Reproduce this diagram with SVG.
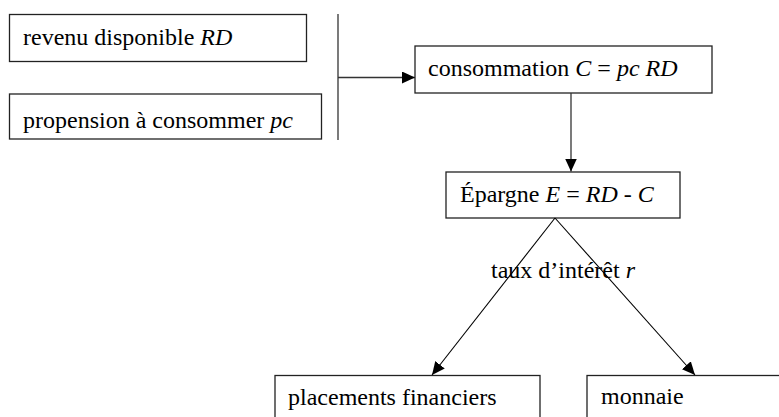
<svg xmlns="http://www.w3.org/2000/svg" width="779" height="417" viewBox="0 0 779 417">
<style>
.box{fill:#fff;stroke:#222;stroke-width:1.3}
.t{font-family:'Liberation Serif','Times New Roman','DejaVu Serif',serif;font-size:24px;fill:#000}
.i{font-style:italic}
.ln{fill:none;stroke:#333;stroke-width:1.3}
.dg{fill:none;stroke:#000;stroke-width:1.1}
</style>
<defs>
<marker id="ah" markerWidth="13" markerHeight="12" refX="13" refY="6" orient="auto" markerUnits="userSpaceOnUse">
<path d="M0,0 L13,6 L0,12 Z" fill="#000"/>
</marker>
</defs>
<rect width="779" height="417" fill="#fff"/>
<g id="rd">
<rect class="box" x="9.5" y="14.5" width="297" height="47"/>
<text class="t" font-family="Liberation Serif, serif" x="23" y="44.5">revenu disponible <tspan class="i">RD</tspan></text>
</g>
<g id="pc">
<rect class="box" x="9.5" y="94" width="312" height="45"/>
<text class="t" font-family="Liberation Serif, serif" x="23" y="127.5">propension à consommer <tspan class="i">pc</tspan></text>
</g>
<g id="conso">
<rect class="box" x="415" y="46" width="297" height="47"/>
<text class="t" font-family="Liberation Serif, serif" x="428" y="75.5">consommation <tspan class="i">C</tspan> = <tspan class="i">pc RD</tspan></text>
</g>
<g id="epargne">
<rect class="box" x="446" y="172" width="234" height="46"/>
<text class="t" font-family="Liberation Serif, serif" x="460" y="202">Épargne <tspan class="i">E</tspan> = <tspan class="i">RD</tspan> - <tspan class="i">C</tspan></text>
</g>
<g id="placements">
<rect class="box" x="275" y="375.5" width="265" height="60"/>
<text class="t" font-family="Liberation Serif, serif" x="288" y="405">placements financiers</text>
</g>
<g id="monnaie">
<rect class="box" x="587" y="375.5" width="220" height="60"/>
<text class="t" font-family="Liberation Serif, serif" x="601" y="404">monnaie</text>
</g>
<g id="connectors">
<line class="ln" x1="338" y1="14" x2="338" y2="140"/>
<line class="ln" x1="338" y1="77.5" x2="415" y2="77.5" marker-end="url(#ah)"/>
<line class="ln" x1="571" y1="93" x2="571" y2="171.5" marker-end="url(#ah)"/>
<line class="dg" x1="555" y1="218" x2="432" y2="375" marker-end="url(#ah)"/>
<line class="dg" x1="555" y1="218" x2="695" y2="375" marker-end="url(#ah)"/>
<text class="t" font-family="Liberation Serif, serif" x="491" y="278">taux d’intérêt <tspan class="i">r</tspan></text>
</g>
</svg>
